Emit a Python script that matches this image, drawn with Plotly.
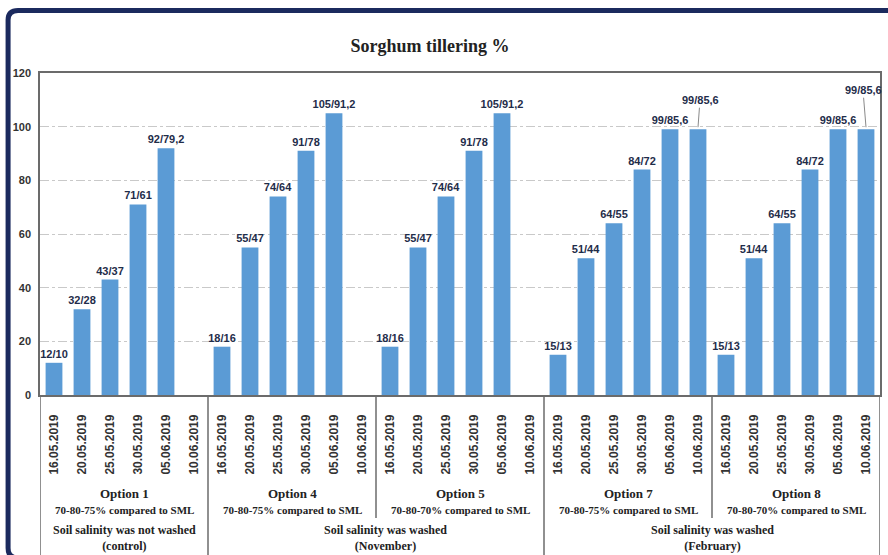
import plotly.graph_objects as go

# ---------------- data ----------------
dates = ["16.05.2019", "20.05.2019", "25.05.2019", "30.05.2019", "05.06.2019", "10.06.2019"]
options = ["Option 1", "Option 4", "Option 5", "Option 7", "Option 8"]
regimes = ["70-80-75% compared to SML", "70-80-75% compared to SML", "70-80-70% compared to SML",
           "70-80-75% compared to SML", "70-80-70% compared to SML"]

opt1_values = [12, 32, 43, 71, 92, None]
opt4_values = [18, 55, 74, 91, 105, None]
opt5_values = [18, 55, 74, 91, 105, None]
opt7_values = [15, 51, 64, 84, 99, 99]
opt8_values = [15, 51, 64, 84, 99, 99]

opt1_labels = ["12/10", "32/28", "43/37", "71/61", "92/79,2", ""]
opt4_labels = ["18/16", "55/47", "74/64", "91/78", "105/91,2", ""]
opt5_labels = ["18/16", "55/47", "74/64", "91/78", "105/91,2", ""]
opt7_labels = ["15/13", "51/44", "64/55", "84/72", "99/85,6", "99/85,6"]
opt8_labels = ["15/13", "51/44", "64/55", "84/72", "99/85,6", "99/85,6"]

washing_groups = ["Soil salinity was not washed<br>(control)",
                  "Soil salinity was washed<br>(November)",
                  "Soil salinity was washed<br>(February)"]

y_ticks = [0, 20, 40, 60, 80, 100, 120]
# ---------------------------------------

all_values = opt1_values + opt4_values + opt5_values + opt7_values + opt8_values
all_labels = opt1_labels + opt4_labels + opt5_labels + opt7_labels + opt8_labels
n_per = len(dates)
xs = list(range(len(all_values)))
tick_text = dates * len(options)

# labels drawn with leader lines (last bar of options 7 and 8)
leader_idx = [3 * n_per + 5, 4 * n_per + 5]
bar_text = ["" if i in leader_idx else t for i, t in enumerate(all_labels)]

W, H = 888, 555
L, R, T, B = 40, 6, 73, 160
PH = H - T - B
PW = W - L - R


def py(p):  # pixel y -> paper
    return (H - B - p) / PH


def px(p):  # pixel x -> paper
    return (p - L) / PW


NAVY = "#1b2a5e"
LINE = "#6b6b6b"
TXT = "#1f2d4a"
SANS = "Liberation Sans, Arial, sans-serif"
SERIF = "Liberation Serif, Times New Roman, serif"

fig = go.Figure()
fig.add_trace(go.Bar(
    x=xs, y=all_values, text=bar_text, textposition="outside", constraintext="none",
    textfont=dict(family=SANS, size=11, color=TXT, weight="bold"),
    marker=dict(color="#5b9bd5", line=dict(width=0)),
    width=0.6, cliponaxis=False, showlegend=False, hoverinfo="skip",
))

annotations = []
# leader-line labels
offsets = [(2, -27), (-3, -37)]
for i, (ax, ay) in zip(leader_idx, offsets):
    annotations.append(dict(
        x=xs[i], y=all_values[i] + 0.8, xref="x", yref="y",
        text=all_labels[i], showarrow=True, arrowhead=0,
        arrowwidth=1, arrowcolor="#8a8a8a", ax=ax, ay=ay, standoff=0,
        font=dict(family=SANS, size=11, color=TXT, weight="bold"),
    ))

for g, (name, reg) in enumerate(zip(options, regimes)):
    cx = g * n_per + (n_per - 1) / 2
    annotations.append(dict(x=cx, y=py(493), xref="x", yref="paper", yanchor="middle",
                            text=name, showarrow=False,
                            font=dict(family=SERIF, size=13, color="#222", weight="bold")))
    annotations.append(dict(x=cx, y=py(510), xref="x", yref="paper", yanchor="middle",
                            text=reg, showarrow=False,
                            font=dict(family=SERIF, size=11, color="#222", weight="bold")))

wash_centers = [(n_per - 1) / 2, 2 * n_per - 0.5, 4 * n_per - 0.5]
wash_shift = [0, 9, 0]
for txt, cx, sh in zip(washing_groups, wash_centers, wash_shift):
    annotations.append(dict(x=cx, y=py(538), xref="x", yref="paper", xshift=sh, yanchor="middle",
                            text=txt, showarrow=False,
                            font=dict(family=SERIF, size=12, color="#222", weight="bold")))

shapes = []
# separators below the axis
full_bottom = py(560)
mid_bottom = py(518)
sep = [(-0.5, full_bottom), (n_per - 0.5, full_bottom), (2 * n_per - 0.5, mid_bottom),
       (3 * n_per - 0.5, full_bottom), (4 * n_per - 0.5, mid_bottom), (5 * n_per - 0.5, full_bottom)]
for x, yb in sep:
    shapes.append(dict(type="line", xref="x", yref="paper", x0=x, x1=x, y0=0, y1=yb,
                       line=dict(color=LINE, width=1.5)))

# outer navy frame (rounded, top & left visible)
path = ("M {a},{b} L {c},{b} Q {d},{b} {d},{e} L {d},{f} Q {d},{g} {c},{g} L {a},{g} ").format(
    a=px(900), b=py(558), c=px(18), d=px(8), e=py(548), f=py(20), g=py(10.5))
shapes.append(dict(type="path", xref="paper", yref="paper", path=path,
                   line=dict(color=NAVY, width=5)))

fig.update_layout(
    width=W, height=H,
    margin=dict(l=L, r=R, t=T, b=B, pad=0),
    paper_bgcolor="white", plot_bgcolor="white",
    title=dict(text="Sorghum tillering %", x=430 / W, xref="container",
               xanchor="center", y=1 - 46 / H, yanchor="middle",
               font=dict(family=SERIF, size=18, color="#222", weight="bold")),
    xaxis=dict(range=[-0.5, len(xs) - 0.5], tickvals=xs, ticktext=tick_text, tickangle=-90,
               tickfont=dict(family=SANS, size=12, color="#333", weight="bold"),
               ticks="", ticklabelstandoff=13, showgrid=False, zeroline=False,
               showline=True, mirror=True, linecolor=LINE, linewidth=1.5, fixedrange=True),
    yaxis=dict(range=[0, 120], tickvals=y_ticks,
               tickfont=dict(family=SANS, size=11, color="#333", weight="bold"),
               ticks="", ticklabelstandoff=5, showgrid=True, gridcolor="#c9c9c9", gridwidth=1,
               griddash="dashdot", zeroline=False,
               showline=True, mirror=True, linecolor=LINE, linewidth=1.5, fixedrange=True),
    annotations=annotations, shapes=shapes, bargap=0.4,
)

fig.write_html("out.html")
